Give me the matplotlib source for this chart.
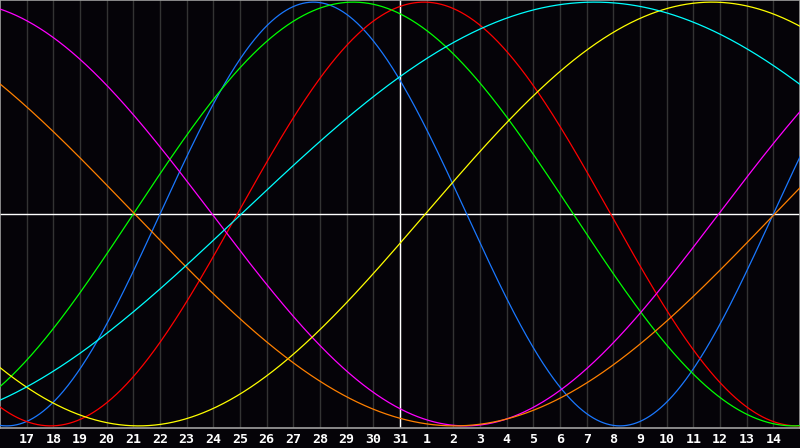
import numpy as np
import matplotlib
matplotlib.use('Agg')
import matplotlib.pyplot as plt

# day labels under the grid (index 1..29), today = 31 at index 15
day_labels = ['17','18','19','20','21','22','23','24','25','26','27','28','29','30','31',
              '1','2','3','4','5','6','7','8','9','10','11','12','13','14']
today_idx = 15

# biorhythm cycles: period in days, day index of the peak
names   = ['physical','emotional','intellectual','intuitive','aesthetic','awareness','spiritual']
periods = [23, 28, 33, 38, 43, 48, 53]
peaks   = [11.75, 15.9, 13.25, -1.55, 26.7, -6.95, 22.3]
colors  = ['#1a78ff','#ff0000','#00ff00','#ff00ff','#ffff00','#ff8000','#00ffff']

bg = '#050308'
fig = plt.figure(figsize=(8, 4.48), dpi=100, facecolor=bg)
ax = fig.add_axes([0, 20/448, 1, 428/448])
ax.set_facecolor(bg)
ax.set_xlim(0, 30)
ax.set_ylim(-1.01, 1.01)

# day grid
for i in range(1, 30):
    ax.axvline(i, color='#333333', lw=1.0, zorder=1)
ax.axvline(today_idx, color='white', lw=1.0, zorder=2)
ax.axhline(0, color='white', lw=1.0, zorder=2)

t = np.linspace(0, 30, 1201)
for p, pk, c in zip(periods, peaks, colors):
    ax.plot(t, np.cos(2*np.pi*(t - pk)/p), color=c, lw=0.9, zorder=3)

ax.set_xticks([])
ax.set_yticks([])
for s in ax.spines.values():
    s.set_color('#a0a0a0')
    s.set_linewidth(1.2)

for i, lab in enumerate(day_labels, start=1):
    fig.text(i/30, 9/448, lab, color='white', ha='center', va='center',
             fontsize=9.5, fontweight='bold', family='DejaVu Sans Mono')

fig.savefig('out.png', dpi=100, facecolor=bg)
